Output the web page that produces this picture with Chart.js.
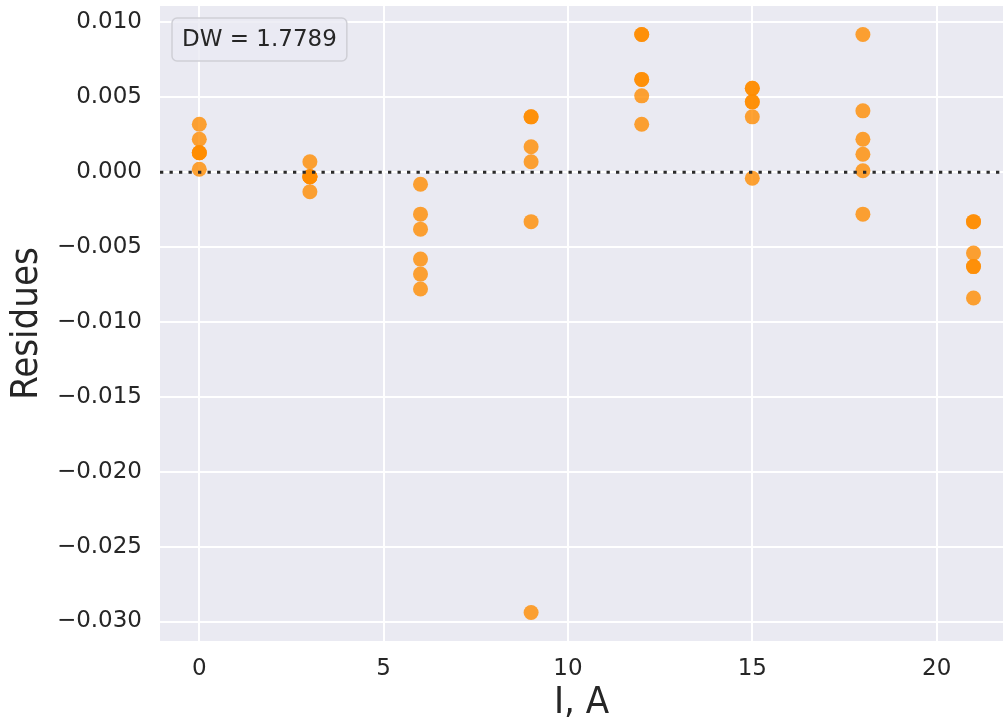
<!DOCTYPE html>
<html>
<head>
<meta charset="utf-8">
<script src="https://cdn.jsdelivr.net/npm/chart.js@4.4.1/dist/chart.umd.min.js"></script>
<style>
  html, body { margin: 0; padding: 0; background: #ffffff; }
  #wrap { width: 1003px; height: 726px; }
</style>
</head>
<body>
<div id="wrap"><canvas id="residChart" width="1003" height="726"></canvas></div>
<script>
// Residues of the fit for each current setting
const currents = [0, 3, 6, 9, 12, 15, 18, 21];
const res0 = [0.0032, 0.0022, 0.0013, 0.0013, 0.0013, 0.0002];
const res3 = [0.0007, -0.0003, -0.0003, -0.0003, -0.0003, -0.0013];
const res6 = [-0.0008, -0.0028, -0.0038, -0.0058, -0.0068, -0.0078];
const res9 = [0.0037, 0.0037, 0.0017, 0.0007, -0.0033, -0.0294];
const res12 = [0.0092, 0.0092, 0.0062, 0.0062, 0.0051, 0.0032];
const res15 = [0.0056, 0.0056, 0.0047, 0.0047, 0.0037, -0.0004];
const res18 = [0.0092, 0.0041, 0.0022, 0.0012, 0.0001, -0.0028];
const res21 = [-0.0033, -0.0033, -0.0054, -0.0063, -0.0063, -0.0084];
const residueSets = [res0, res3, res6, res9, res12, res15, res18, res21];
const dwText = 'DW = 1.7789';

// Flatten into scatter points
const points = [];
currents.forEach((c, i) => {
  residueSets[i].forEach(r => points.push({ x: c, y: r }));
});

const fontFamily = '"DejaVu Sans", sans-serif';
const titleFamily = '"DejaVu Sans Condensed", "DejaVu Sans", sans-serif';
const textColor = '#262626';

// Grey panel behind the plot
const panelBg = {
  id: 'panelBg',
  beforeDraw(chart) {
    const { ctx, chartArea: a } = chart;
    ctx.save();
    ctx.fillStyle = '#eaeaf2';
    ctx.fillRect(a.left, a.top, a.right - a.left, a.bottom - a.top);
    ctx.restore();
  }
};

// Dotted zero line plus the DW box
const overlay = {
  id: 'overlay',
  afterDatasetsDraw(chart) {
    const { ctx, chartArea: a, scales } = chart;
    const y0 = scales.y.getPixelForValue(0);
    ctx.save();
    ctx.strokeStyle = '#2b2b2b';
    ctx.lineWidth = 3;
    ctx.setLineDash([3.3, 6.2]);
    ctx.beginPath();
    ctx.moveTo(a.left, y0);
    ctx.lineTo(a.right, y0);
    ctx.stroke();
    ctx.restore();

    ctx.save();
    ctx.font = '23px ' + fontFamily;
    const w = ctx.measureText(dwText).width + 20;
    const bx = a.left + 12, by = a.top + 12, bh = 43;
    ctx.beginPath();
    ctx.roundRect(bx, by, w, bh, 5);
    ctx.fillStyle = 'rgba(234,234,242,0.8)';
    ctx.fill();
    ctx.strokeStyle = '#cfcfd6';
    ctx.lineWidth = 1.5;
    ctx.stroke();
    ctx.fillStyle = textColor;
    ctx.textBaseline = 'middle';
    ctx.fillText(dwText, bx + 10, by + bh / 2 + 1);
    ctx.restore();
  }
};

const ctx = document.getElementById('residChart').getContext('2d');
const residChart = new Chart(ctx, {
  type: 'scatter',
  data: {
    datasets: [{
      label: 'Residues',
      data: points,
      backgroundColor: 'rgba(255,140,0,0.8)',
      borderWidth: 0,
      pointRadius: 7.5,
      pointHoverRadius: 7.5
    }]
  },
  options: {
    responsive: false,
    animation: false,
    layout: { autoPadding: false, padding: { top: 6, right: 0, left: 0, bottom: 0 } },
    plugins: {
      legend: { display: false },
      tooltip: { enabled: false }
    },
    scales: {
      x: {
        type: 'linear',
        min: -1.066,
        max: 21.8,
        afterFit: s => { s.height = 85; s.paddingLeft = 0; s.paddingRight = 0; },
        grid: { color: '#ffffff', lineWidth: 2, drawTicks: false },
        border: { display: false },
        ticks: {
          stepSize: 5,
          includeBounds: false,
          padding: 14,
          color: textColor,
          font: { family: fontFamily, size: 23 },
          callback: v => String(v)
        },
        title: {
          display: true,
          text: 'I, A',
          color: textColor,
          font: { family: titleFamily, size: 38 },
          padding: { top: 0, bottom: 0 }
        }
      },
      y: {
        type: 'linear',
        min: -0.0313,
        max: 0.0111,
        afterFit: s => { s.width = 160; s.paddingTop = 0; s.paddingBottom = 0; },
        grid: { color: '#ffffff', lineWidth: 2, drawTicks: false },
        border: { display: false },
        ticks: {
          stepSize: 0.005,
          includeBounds: false,
          padding: 18,
          color: textColor,
          font: { family: fontFamily, size: 23 },
          callback: v => Number(v).toFixed(3).replace('-', '\u2212')
        },
        title: {
          display: true,
          text: 'Residues',
          color: textColor,
          font: { family: titleFamily, size: 38 },
          padding: { top: 4, bottom: 0 }
        }
      }
    }
  },
  plugins: [panelBg, overlay]
});
</script>
</body>
</html>
